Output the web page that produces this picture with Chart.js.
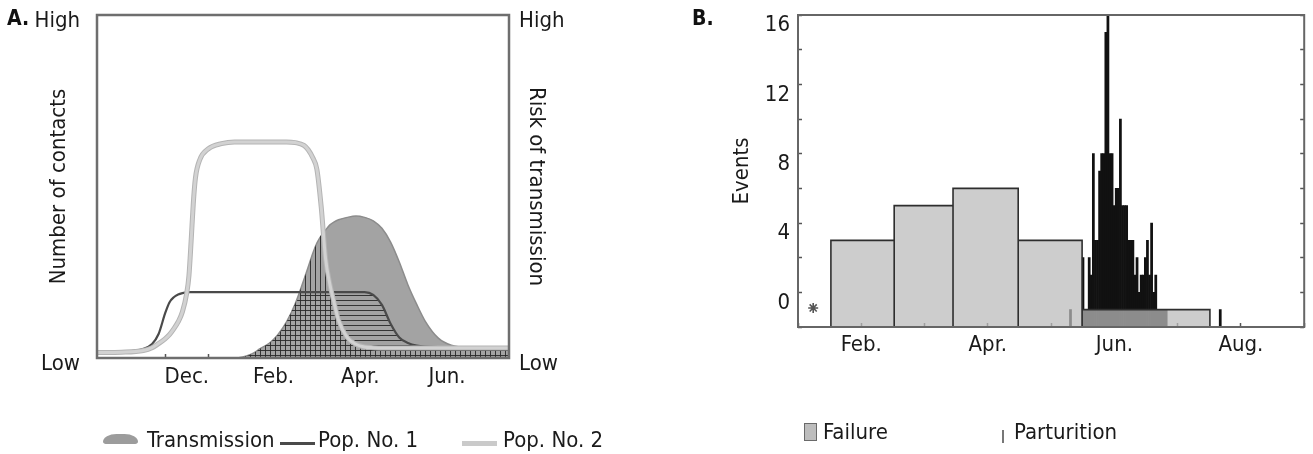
<!DOCTYPE html>
<html><head><meta charset="utf-8">
<script src="https://cdn.jsdelivr.net/npm/chart.js@4.4.1/dist/chart.umd.min.js"></script>
<style>
html,body{margin:0;padding:0;background:#fff;overflow:hidden;width:1313px;height:454px;}
#wrap{position:relative;width:1313px;height:454px;overflow:hidden;}
canvas{position:absolute;top:0;}
#cA{left:0;} #cB{left:690px;}
.lg{position:absolute;font-family:'DejaVu Sans Condensed','Liberation Sans Narrow','Liberation Sans',sans-serif;font-size:22px;line-height:22px;color:#1a1a1a;white-space:nowrap;}
.sw{position:absolute;}
.sw-trans{width:35px;height:10px;background:#9c9c9c;border-radius:50% 50% 6px 6px / 100% 100% 3px 3px;}
.sw-p1{width:35px;height:3px;background:#4a4a4a;}
.sw-p2{width:35px;height:5px;background:#cacaca;}
.sw-fail{width:11px;height:16px;background:#bdbdbd;border:1.5px solid #6a6a6a;}
.sw-part{width:2px;height:13px;background:#777;}
</style></head><body><div id="wrap">
<canvas id="cA" width="600" height="454"></canvas>
<canvas id="cB" width="623" height="454"></canvas>
</div>
<script>
// ---------- Panel A data (x = months from 1 Dec; y = relative level 0..1) ----------
const monthsA = [-1.57,-1.0,-0.5,-0.3,-0.15,0,0.1,0.2,0.3,0.4,0.5,0.55,0.6,0.65,0.7,0.8,1.0,1.3,1.6,2.0,2.2,2.4,2.6,2.8,3.0,3.2,3.3,3.4,3.5,3.6,3.7,3.8,3.9,4.0,4.2,4.4,4.6,4.8,5.0,5.2,5.4,5.6,5.8,6.0,6.3,6.6,7.0,7.5,7.93];
const transmission = [0,0,0,0,0,0,0,0,0,0,0,0,0,0,0,0,0,0,0,0.012,0.028,0.043,0.068,0.105,0.158,0.228,0.265,0.303,0.335,0.357,0.373,0.388,0.397,0.403,0.41,0.414,0.41,0.4,0.378,0.338,0.28,0.213,0.157,0.107,0.058,0.037,0.03,0.029,0.029];
const pop1 = [0.015,0.018,0.027,0.041,0.07,0.13,0.162,0.177,0.185,0.189,0.191,0.192,0.192,0.192,0.192,0.192,0.192,0.192,0.192,0.192,0.192,0.192,0.192,0.192,0.192,0.192,0.192,0.192,0.192,0.192,0.192,0.192,0.192,0.192,0.192,0.192,0.192,0.184,0.155,0.1,0.06,0.044,0.036,0.033,0.032,0.032,0.032,0.032,0.032];
const pop2 = [0.016,0.017,0.022,0.030,0.042,0.056,0.068,0.085,0.105,0.135,0.19,0.24,0.34,0.45,0.525,0.578,0.61,0.625,0.63,0.63,0.63,0.63,0.63,0.63,0.628,0.62,0.607,0.585,0.55,0.44,0.29,0.215,0.16,0.11,0.06,0.04,0.032,0.03,0.029,0.029,0.029,0.029,0.029,0.029,0.029,0.029,0.029,0.029,0.029];
const tickPosA = [0,2,4,6];
const tickLabelsA = ['Dec.','Feb.','Apr.','Jun.'];
const levelLabelsA = ['Low','High'];

// ---------- Panel B data (x = months, 1 = 1 Jan; y = events) ----------
const failureStart = [1.52,2.52,3.45,4.48,5.49];
const failureEnd   = [2.52,3.45,4.48,5.49,7.51];
const failureCount = [5,7,8,5,1];
const partDay   = [131,137,138,139,140,141,142,143,144,145,146,147,148,149,150,151,152,153,154,155,156,157,158,159,160,161,162,163,164,165,166,167,168,169,170,171,172,173,174,175,176,177,203];
const partCount = [1,4,1,1,4,3,10,5,5,9,10,10,17,18,10,10,7,8,8,12,7,7,7,5,5,5,3,4,2,3,3,4,5,3,6,2,3,1,1,1,1,1,1];
const starX = [1.24];
const starY = [1.1];
const tickPosB = [2,4,6,8];
const tickLabelsB = ['Feb.','Apr.','Jun.','Aug.'];
const eventTicks = [0,4,8,12,16];

// ---------- common ----------
const FONT = "'DejaVu Sans Condensed','Liberation Sans Narrow','Liberation Sans',sans-serif";
Chart.defaults.font.family = FONT;
Chart.defaults.font.size = 22;
Chart.defaults.color = '#1a1a1a';
Chart.defaults.animation = false;

const boxPlugin = {
  id: 'box',
  afterDatasetsDraw(chart, args, opts) {
    const {ctx, chartArea: a} = chart;
    ctx.save();
    ctx.strokeStyle = opts.color; ctx.lineWidth = opts.width;
    ctx.strokeRect(a.left, a.top, a.right - a.left, a.bottom - a.top);
    ctx.restore();
  }
};

function makePattern(dir) {
  const c = document.createElement('canvas'); c.width = 5; c.height = 5;
  const x = c.getContext('2d');
  x.strokeStyle = 'rgba(40,40,40,0.9)'; x.lineWidth = 1;
  x.beginPath();
  if (dir === 'h') { x.moveTo(0, 0.5); x.lineTo(5, 0.5); } else { x.moveTo(0.5, 0); x.lineTo(0.5, 5); }
  x.stroke();
  return x.createPattern(c, 'repeat');
}
const ptsA = ys => monthsA.map((x, i) => ({x, y: ys[i]}));
const minOf = (a, b) => a.map((v, i) => Math.min(v, b[i]));

const lineCommon = {type: 'line', pointRadius: 0, cubicInterpolationMode: 'monotone'};
const titleFont = {size: 22, lineHeight: 1.2};
const yTickFont = {size: 22, lineHeight: 0.2};

const chartA = new Chart(document.getElementById('cA'), {
  type: 'line',
  data: {
    datasets: [
      {...lineCommon, label: 'Transmission', data: ptsA(transmission), order: 5, fill: 'origin', backgroundColor: '#a3a3a3', borderColor: '#8c8c8c', borderWidth: 1.5},
      {...lineCommon, label: 'Pop. No. 1', data: ptsA(pop1), order: 2, fill: false, borderColor: '#4a4a4a', borderWidth: 2.2},
      {...lineCommon, label: 'Pop. No. 2', data: ptsA(pop2), order: 0, fill: false, borderColor: '#d2d2d2', borderWidth: 3},
      {...lineCommon, label: '_pop2edge', data: ptsA(pop2), order: 1, fill: false, borderColor: '#b4b4b4', borderWidth: 5},
      {...lineCommon, label: '_hatchH', data: ptsA(minOf(transmission, pop1)), order: 4, fill: 'origin', backgroundColor: makePattern('h'), borderColor: 'transparent', borderWidth: 0},
      {...lineCommon, label: '_hatchV', data: ptsA(minOf(transmission, pop2)), order: 3, fill: 'origin', backgroundColor: makePattern('v'), borderColor: 'transparent', borderWidth: 0}
    ]
  },
  options: {
    responsive: false, maintainAspectRatio: false, animation: false,
    layout: {autoPadding: false, padding: {left: 7, top: 0, right: 0, bottom: 0}},
    plugins: {
      legend: {display: false}, tooltip: {enabled: false},
      title: {display: true, text: 'A.', align: 'start', color: '#111', font: {size: 21, weight: 'bold', lineHeight: 1.2}, padding: {top: 7, bottom: -17.2}},
      box: {color: '#6e6e6e', width: 2.5}
    },
    scales: {
      x: {
        type: 'linear', position: 'bottom', min: -1.57, max: 7.93,
        afterFit: s => { s.height = 96; },
        afterBuildTicks: s => { s.ticks = s.ticks.filter(t => t.value >= 0 && Number.isInteger(t.value)); },
        ticks: {stepSize: 1, autoSkip: false, maxRotation: 0, labelOffset: 21.7, padding: 9.8,
          callback: v => { const i = tickPosA.indexOf(v); return i >= 0 ? tickLabelsA[i] : ''; }},
        grid: {drawOnChartArea: false, drawTicks: true, tickLength: -4, tickColor: '#555', tickWidth: 1.5},
        border: {display: false}
      },
      y: {
        type: 'linear', position: 'left', min: 0, max: 1,
        afterFit: s => { s.width = 90; },
        ticks: {stepSize: 1, padding: 0, labelOffset: 6, font: yTickFont, callback: v => levelLabelsA[v] ?? ''},
        grid: {display: false, drawTicks: true, tickLength: 17}, border: {display: false},
        title: {display: true, text: 'Number of contacts', font: titleFont, padding: {top: 38.8, bottom: 0}}
      },
      y2: {
        type: 'linear', position: 'right', min: 0, max: 1,
        afterFit: s => { s.width = 91; },
        ticks: {stepSize: 1, padding: 0, labelOffset: 6, font: yTickFont, callback: v => levelLabelsA[v] ?? ''},
        grid: {display: false, drawTicks: true, tickLength: 10}, border: {display: false},
        title: {display: true, text: 'Risk of transmission', font: titleFont, padding: {top: 50.8, bottom: 0}}
      }
    }
  },
  plugins: [boxPlugin]
});

const failurePts = [];
failureStart.forEach((s, i) => {
  const e = failureEnd[i], c = failureCount[i];
  failurePts.push({x: s, y: 0}, {x: s, y: c}, {x: e, y: c}, {x: e, y: 0}, {x: e, y: null});
});

const chartB = new Chart(document.getElementById('cB'), {
  type: 'line',
  data: {
    datasets: [
      {type: 'line', label: 'Failure', data: failurePts, fill: 'origin', backgroundColor: 'rgba(186,186,186,0.73)', borderColor: '#2e2e2e', borderWidth: 1.6, pointRadius: 0, tension: 0, spanGaps: false},
      {type: 'bar', label: 'Parturition', data: partDay.map((d, i) => ({x: 1 + d / 30.42, y: partCount[i]})), backgroundColor: '#111', borderWidth: 0, barPercentage: 1, categoryPercentage: 1},
      {type: 'line', label: '_star', data: starX.map((x, i) => ({x, y: starY[i]})), showLine: false, pointStyle: 'star', pointRadius: 5, borderColor: '#555', borderWidth: 1.6}
    ]
  },
  options: {
    responsive: false, maintainAspectRatio: false, animation: false,
    layout: {autoPadding: false, padding: {left: 2, top: 0, right: 0, bottom: 0}},
    plugins: {
      legend: {display: false}, tooltip: {enabled: false},
      title: {display: true, text: 'B.', align: 'start', color: '#111', font: {size: 21, weight: 'bold', lineHeight: 1.2}, padding: {top: 7, bottom: -17.2}},
      box: {color: '#666', width: 2}
    },
    scales: {
      x: {
        type: 'linear', position: 'bottom', min: 1, max: 9, offset: false,
        afterFit: s => { s.height = 127; },
        ticks: {stepSize: 1, autoSkip: false, maxRotation: 0, padding: 8.8,
          callback: v => { const i = tickPosB.indexOf(v); return i >= 0 ? tickLabelsB[i] : ''; }},
        grid: {drawOnChartArea: false, offset: false, drawTicks: true, tickLength: -4, tickColor: '#555', tickWidth: 1.5},
        border: {display: false}
      },
      y: {
        type: 'linear', position: 'left', min: 0, max: 18,
        afterFit: s => { s.width = 106; },
        ticks: {stepSize: 2, autoSkip: false, padding: 12, labelOffset: -24, font: yTickFont, callback: v => eventTicks.includes(v) ? String(v) : ''},
        grid: {drawOnChartArea: false, drawTicks: true, tickLength: -4, tickColor: '#555', tickWidth: 1.5},
        border: {display: false},
        title: {display: true, text: 'Events', font: titleFont, padding: {top: 36.8, bottom: 0}}
      },
      y2: {
        type: 'linear', position: 'right', min: 0, max: 18,
        afterFit: s => { s.width = 5; },
        ticks: {stepSize: 2, display: false, padding: 0},
        grid: {drawOnChartArea: false, drawTicks: true, tickLength: -4, tickColor: '#555', tickWidth: 1.5},
        border: {display: false}
      }
    }
  },
  plugins: [boxPlugin]
});

// ---------- HTML legends built from the charts' datasets ----------
const legendStyleA = [
  {cls: 'sw-trans', swLeft: 103, swTop: 434, txLeft: 147},
  {cls: 'sw-p1', swLeft: 280, swTop: 442, txLeft: 318},
  {cls: 'sw-p2', swLeft: 462, swTop: 441, txLeft: 503}
];
const legendStyleB = [
  {cls: 'sw-fail', swLeft: 804, swTop: 423, txLeft: 823},
  {cls: 'sw-part', swLeft: 1002, swTop: 430, txLeft: 1014}
];
function htmlLegend(chart, styles, textTop) {
  const wrap = document.getElementById('wrap');
  const items = chart.data.datasets.filter(d => !d.label.startsWith('_'));
  items.forEach((d, i) => {
    const st = styles[i];
    const sw = document.createElement('div');
    sw.className = 'sw ' + st.cls; sw.style.left = st.swLeft + 'px'; sw.style.top = st.swTop + 'px';
    const tx = document.createElement('div');
    tx.className = 'lg'; tx.textContent = d.label; tx.style.left = st.txLeft + 'px'; tx.style.top = textTop + 'px';
    wrap.appendChild(sw); wrap.appendChild(tx);
  });
}
htmlLegend(chartA, legendStyleA, 429);
htmlLegend(chartB, legendStyleB, 421);
</script>
</body></html>
